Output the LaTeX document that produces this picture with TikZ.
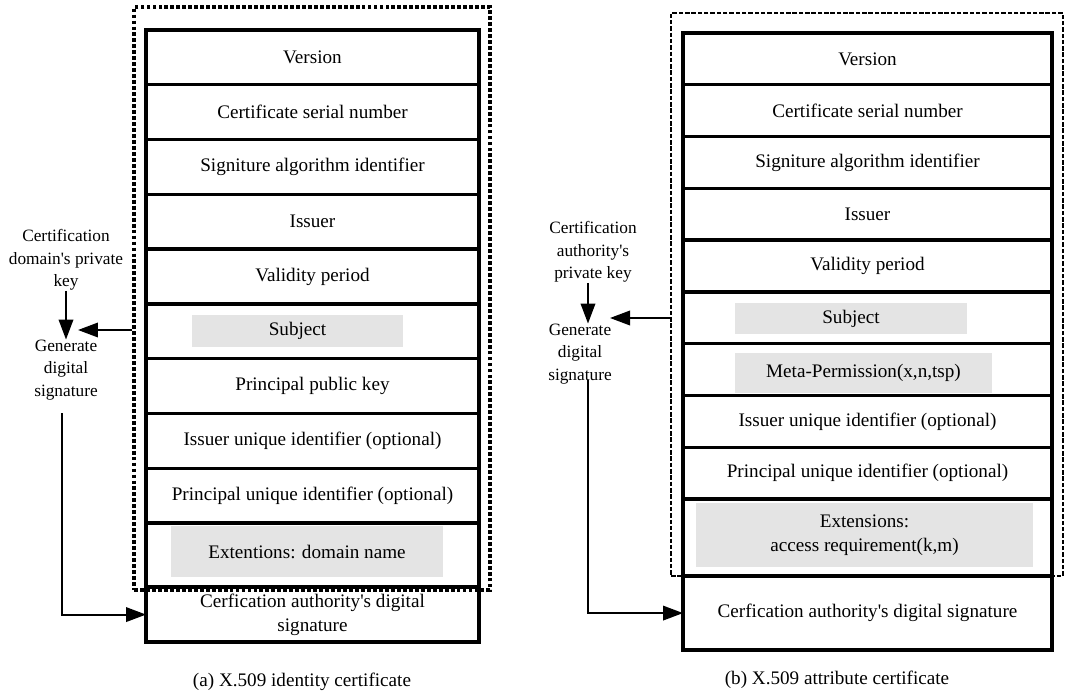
\documentclass[tikz,border=0pt]{standalone}
\usepackage{fontspec}
\setmainfont{Liberation Serif}
\usetikzlibrary{positioning,arrows.meta}
\definecolor{shade}{RGB}{228,228,228}
\newcommand{\rowfont}{\fontsize{10.9}{13.6}\selectfont}
\newcommand{\notefont}{\fontsize{9.85}{12.8}\selectfont}
\newcommand{\apos}{\textquotesingle}
\tikzset{
  field/.style ={draw, line width=1.9pt, outer sep=0pt, inner sep=0pt, align=center, font=\rowfont},
  fielda/.style={field, minimum width=6.66cm, minimum height=1.096cm},
  fieldb/.style={field, minimum width=7.38cm, minimum height=1.036cm},
  shaded/.style={fill=shade, inner sep=0pt, align=center, font=\rowfont},
  outline/.style={draw, line width=2pt, dash pattern=on 2.2pt off 1.2pt},
  note/.style={align=center, inner sep=0pt, font=\notefont},
  line/.style ={draw, line width=1.1pt, -{Triangle[length=0.4cm,width=0.29cm]}}
}

\begin{document}
\begin{tikzpicture}[x=0.02cm, y=-0.02cm]
  \useasboundingbox (0,0) rectangle (1066,693);

  % (a) identity certificate
  \node[outline, minimum width=7.12cm, minimum height=11.66cm] (framea) at (312,298.5) {};
  \node[fielda, anchor=north] (vera) at (312.5,30) {Version};
  \node[fielda, below=0pt of vera] (sera) {Certificate serial number};
  \node[fielda, below=0pt of sera] (alga) {Signiture algorithm identifier};
  \node[fielda, below=0pt of alga] (issa) {Issuer};
  \node[fielda, below=0pt of issa] (vala) {Validity period};
  \node[fielda, below=0pt of vala] (suba) {};
  \node[fielda, below=0pt of suba] (pkeya) {Principal public key};
  \node[fielda, below=0pt of pkeya] (iuida) {Issuer unique identifier (optional)};
  \node[fielda, below=0pt of iuida] (puida) {Principal unique identifier (optional)};
  \node[fielda, below=0pt of puida, minimum height=1.28cm] (exta) {};
  \node[fielda, below=0pt of exta, minimum height=1.1cm] (siga) {Cerfication authority\apos s digital\\signature};
  \node[shaded, minimum width=4.22cm, minimum height=0.64cm] (subjecta) at (297.5,331) {Subject};
  \node[shaded, minimum width=5.44cm, minimum height=1.02cm] (extnamea) at (307,551.5) {Extentions: domain name};

  \node[note] (keya) at (66,260) {Certification\\domain\apos s private\\key};
  \node[note] (gena) at (66,370) {Generate\\digital\\signature};
  \coordinate (tipa) at (78,330);
  \coordinate (starta) at (62,413);
  \path[line] (keya.south) -- (gena.north);
  \path[line] (framea.west |- tipa) -- (tipa);
  \path[line] (starta) |- (siga.west);

  \node[font=\rowfont] (capa) at (302,682) {(a) X.509 identity certificate};

  % (b) attribute certificate
  \node[outline, dash pattern=on 2.6pt off 1pt, line width=1.4pt, minimum width=7.84cm, minimum height=11.26cm] (frameb) at (867,294.5) {};
  \node[fieldb, anchor=north] (verb) at (867.5,33) {Version};
  \node[fieldb, below=0pt of verb] (serb) {Certificate serial number};
  \node[fieldb, below=0pt of serb] (algb) {Signiture algorithm identifier};
  \node[fieldb, below=0pt of algb] (issb) {Issuer};
  \node[fieldb, below=0pt of issb] (valb) {Validity period};
  \node[fieldb, below=0pt of valb] (subb) {};
  \node[fieldb, below=0pt of subb] (metab) {};
  \node[fieldb, below=0pt of metab] (iuidb) {Issuer unique identifier (optional)};
  \node[fieldb, below=0pt of iuidb] (puidb) {Principal unique identifier (optional)};
  \node[fieldb, below=0pt of puidb, minimum height=1.54cm] (extb) {};
  \node[fieldb, below=0pt of extb, minimum height=1.48cm] (sigb) {Cerfication authority\apos s digital signature};
  \node[shaded, minimum width=4.64cm, minimum height=0.62cm] (subjectb) at (851,318.5) {Subject};
  \node[shaded, minimum width=5.14cm, minimum height=0.8cm] (permb) at (863.5,373) {Meta-Permission(x,n,tsp)};
  \node[shaded, minimum width=6.74cm, minimum height=1.28cm] (extreqb) at (864.5,535) {Extensions:\\access requirement(k,m)};

  \node[note] (keyb) at (593,252) {Certification\\authority\apos s\\private key};
  \node[note] (genb) at (580,354) {Generate\\digital\\signature};
  \coordinate (tipb) at (610,318);
  \coordinate (startb) at (588,380);
  \path[line] (keyb.south -| startb) -- (genb.north -| startb);
  \path[line] (frameb.west |- tipb) -- (tipb);
  \path[line] (startb) |- (sigb.west);

  \node[font=\rowfont] (capb) at (837,680) {(b) X.509 attribute certificate};
\end{tikzpicture}
\end{document}
